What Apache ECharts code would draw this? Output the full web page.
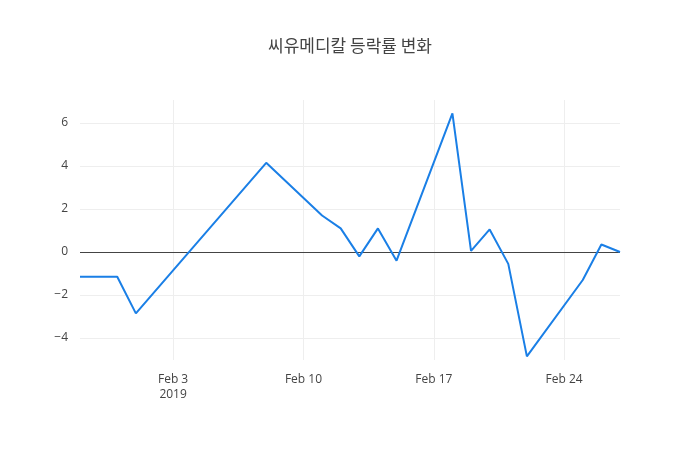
<!DOCTYPE html>
<html><head><meta charset="utf-8">
<script src="https://cdn.jsdelivr.net/npm/echarts@6/dist/echarts.min.js"></script>
<style>html,body{margin:0;background:#fff}#c{width:700px;height:450px}</style>
</head><body><div id="c"></div>
<script>
const dates = ['2019-01-29','2019-01-30','2019-01-31','2019-02-01','2019-02-08','2019-02-11','2019-02-12','2019-02-13','2019-02-14','2019-02-15','2019-02-18','2019-02-19','2019-02-20','2019-02-21','2019-02-22','2019-02-25','2019-02-26','2019-02-27'];
const changes = [-1.15,-1.15,-1.15,-2.85,4.15,1.7,1.1,-0.2,1.1,-0.4,6.45,0.05,1.05,-0.55,-4.85,-1.3,0.35,0.0];
const xTickDays = [0,7,14,21];
const xTickLabels = ['Feb 3\n2019','Feb 10','Feb 17','Feb 24'];
const yTicks = [-4,-2,0,2,4,6];

const base = Date.UTC(2019,1,3);
const dayOf = s => { const [y,m,d]=s.split('-').map(Number); return (Date.UTC(y,m-1,d)-base)/86400000; };
const data = dates.map((d,i)=>[dayOf(d), changes[i]]);
const gridStyle = {color:'#eeeeee', width:1, type:'solid'};
const marks = xTickDays.map(v=>({xAxis:v, lineStyle:gridStyle}))
  .concat(yTicks.filter(v=>v!==0).map(v=>({yAxis:v, lineStyle:gridStyle})))
  .concat([{yAxis:0, lineStyle:{color:'#444', width:1, type:'solid'}}]);

const chart = echarts.init(document.getElementById('c'));
chart.setOption({
  animation:false,
  textStyle:{fontFamily:'Open Sans'},
  title:{text:'씨유메디칼 등락률 변화', left:'center', top:32,
    textStyle:{fontFamily:'Noto Sans CJK KR', fontSize:17, fontWeight:'normal', color:'#444'}},
  grid:{left:80, right:80, top:100, bottom:90},
  xAxis:{type:'value', min:dayOf('2019-01-29'), max:dayOf('2019-02-27'),
    axisLine:{show:false}, axisTick:{show:false}, splitLine:{show:false},
    axisLabel:{customValues:xTickDays, color:'#444', fontSize:12, lineHeight:15, margin:12,
      formatter:v=>xTickLabels[xTickDays.indexOf(v)] || ''}},
  yAxis:{type:'value', min:-5.02, max:7.07,
    axisLine:{show:false}, axisTick:{show:false}, splitLine:{show:false},
    axisLabel:{customValues:yTicks, color:'#444', fontSize:12, margin:12,
      formatter:v=>v<0?'\u2212'+Math.abs(v):String(v)}},
  series:[{type:'line', data:data, showSymbol:false, z:5,
    lineStyle:{color:'#1a7fe6', width:2}, itemStyle:{color:'#1a7fe6'},
    markLine:{silent:true, symbol:'none', label:{show:false}, data:marks, z:1}}]
});
</script></body></html>
